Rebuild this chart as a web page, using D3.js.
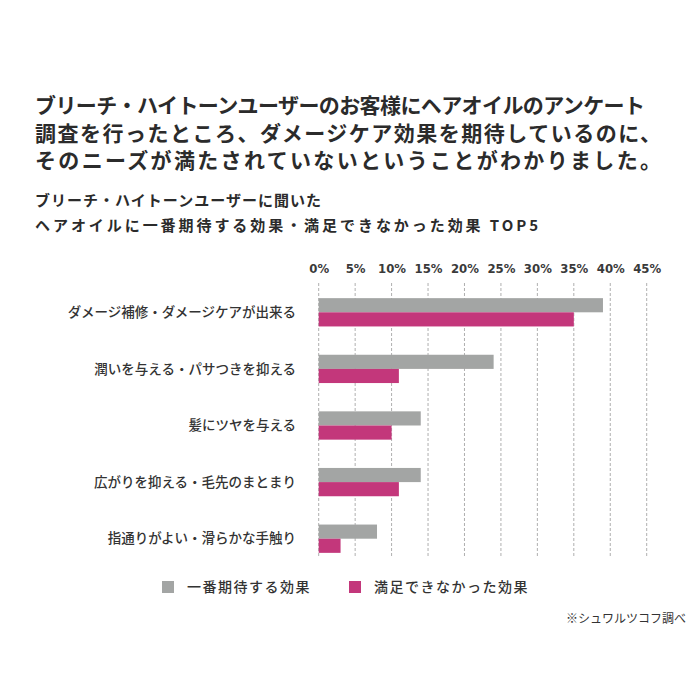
<!DOCTYPE html>
<html><head><meta charset="utf-8">
<script src="https://cdn.jsdelivr.net/npm/d3@7"></script>
<style>body{margin:0;background:#fff}svg{display:block}</style>
</head><body>
<svg id="c" width="700" height="700"></svg>
<script>
const titleLines = ["ブリーチ・ハイトーンユーザーのお客様にヘアオイルのアンケート","調査を行ったところ、ダメージケア効果を期待しているのに、","そのニーズが満たされていないということがわかりました。"];
const subtitleLines = ["ブリーチ・ハイトーンユーザーに聞いた","ヘアオイルに一番期待する効果・満足できなかった効果  TOP5"];
const categories = ["ダメージ補修・ダメージケアが出来る","潤いを与える・パサつきを抑える","髪にツヤを与える","広がりを抑える・毛先のまとまり","指通りがよい・滑らかな手触り"];
const seriesNames = ["一番期待する効果","満足できなかった効果"];
const expected = [39, 24, 14, 14, 8];
const unsatisfied = [35, 11, 10, 11, 3];
const ticks = [0,5,10,15,20,25,30,35,40,45];
const footnote = "※シュワルツコフ調べ";

const colors = ["#a3a5a4","#c3377b"];
const svg = d3.select("#c");
const jp = "'Noto Sans CJK JP','Noto Sans',sans-serif";

// title
const titleEnds = [645, 661, 661];
titleLines.forEach((t,i)=>{
  svg.append("text").attr("x",35).attr("y",113+i*27.5)
    .attr("font-family",jp).attr("font-weight",700).attr("font-size",21)
    .attr("fill","#2b2b2b").attr("textLength",titleEnds[i]-35).attr("lengthAdjust","spacing").text(t);
});
const subEnds = [321, 538];
subtitleLines.forEach((t,i)=>{
  svg.append("text").attr("x",35).attr("y",206+i*25)
    .attr("font-family",jp).attr("font-weight",700).attr("font-size",15)
    .attr("fill","#2b2b2b").attr("textLength",subEnds[i]-35).attr("lengthAdjust","spacing").text(t);
});

const x = d3.scaleLinear().domain([0,45]).range([318.7,646.7]);
const y = d3.scaleBand().domain(categories).range([284,567]).paddingInner(0.5).paddingOuter(0.25);

// grid
svg.append("g").selectAll("line").data(ticks).join("line")
  .attr("x1",d=>x(d)).attr("x2",d=>x(d)).attr("y1",283).attr("y2",557)
  .attr("stroke","#9a9a9a").attr("stroke-width",0.8).attr("stroke-dasharray","3,2");

// tick labels
const axis = d3.axisTop(x).tickValues(ticks).tickFormat(d=>d+"%").tickSize(0);
const ag = svg.append("g").attr("transform","translate(0,276)").call(axis);
ag.select(".domain").remove();
ag.selectAll("text").attr("font-family","'Liberation Sans Narrow','DejaVu Sans Condensed',sans-serif")
  .attr("font-size",13).attr("font-weight",700).attr("fill","#3a3a3a");

// bars
const sub = d3.scaleBand().domain([0,1]).range([0,y.bandwidth()]);
const data = categories.map((c,i)=>({c,v:[expected[i],unsatisfied[i]]}));
const g = svg.append("g").selectAll("g").data(data).join("g").attr("transform",d=>`translate(0,${y(d.c)})`);
g.selectAll("rect").data(d=>d.v.map((v,k)=>({v,k}))).join("rect")
  .attr("x",x(0)).attr("y",d=>sub(d.k)).attr("width",d=>x(d.v)-x(0)).attr("height",sub.bandwidth())
  .attr("fill",d=>colors[d.k]);

// category labels
svg.append("g").selectAll("text").data(categories).join("text")
  .attr("x",296).attr("y",d=>y(d)+y.bandwidth()/2).attr("dy","0.35em").attr("text-anchor","end")
  .attr("font-family",jp).attr("font-weight",500).attr("font-size",13.5).attr("fill","#333").text(d=>d);

// legend
const legX = [162, 349];
seriesNames.forEach((s,i)=>{
  svg.append("rect").attr("x",legX[i]).attr("y",581).attr("width",12).attr("height",12).attr("fill",colors[i]);
  svg.append("text").attr("x",legX[i]+25).attr("y",587).attr("dy","0.35em")
    .attr("font-family",jp).attr("font-weight",500).attr("font-size",14).attr("fill","#333")
    .attr("letter-spacing",1.5).text(s);
});

svg.append("text").attr("x",686).attr("y",619).attr("dy","0.35em").attr("text-anchor","end")
  .attr("font-family",jp).attr("font-size",12).attr("fill","#333").text(footnote);
</script>
</body></html>
